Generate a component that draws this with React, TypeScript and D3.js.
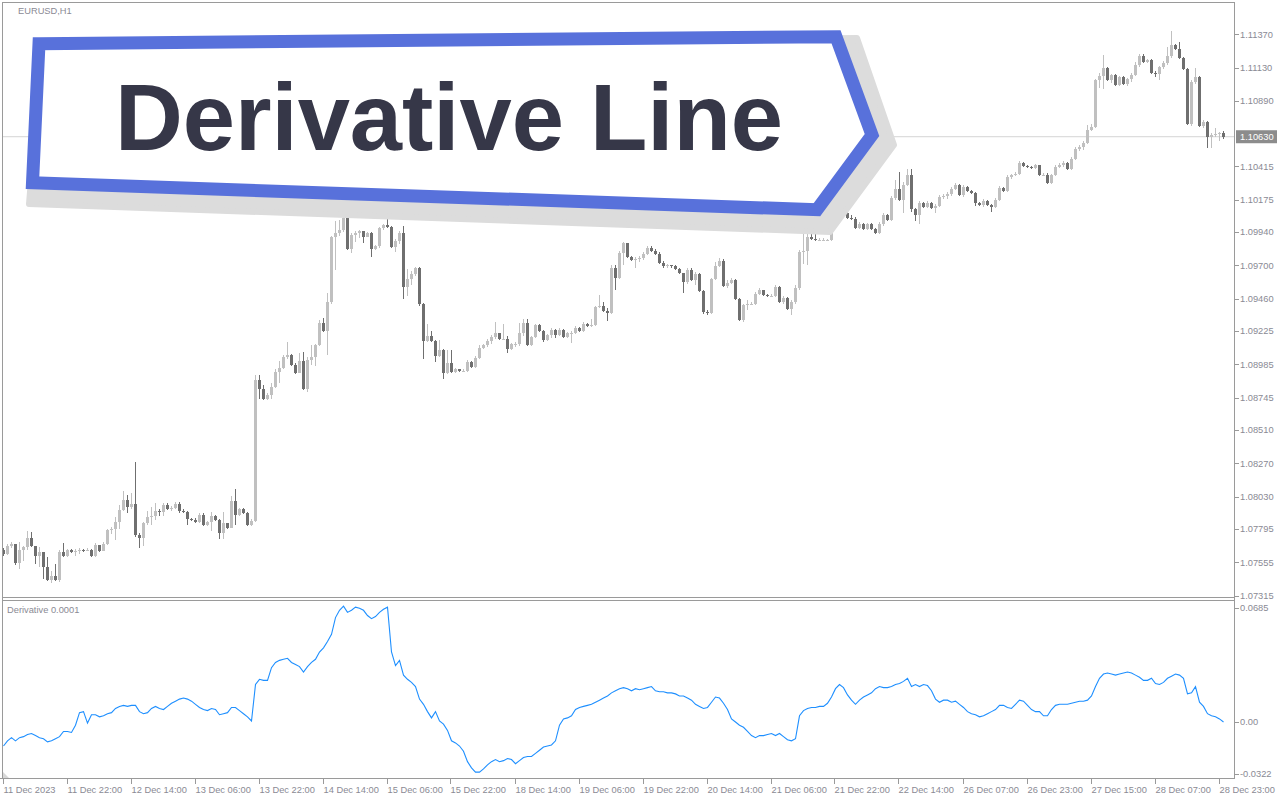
import React from "react";
import * as d3 from "d3";

const OPEN0 = 1.07645;
const closes = [
1.07616,1.07674,1.07688,1.07551,1.07645,1.07667,1.07731,1.07674,1.07602,1.07631,
1.07522,1.07428,1.07457,1.07428,1.07631,1.07602,1.07645,1.07631,1.07638,1.07645,
1.07638,1.07645,1.07602,1.07681,1.07638,1.07688,1.07789,1.07796,1.07848,1.07934,
1.08006,1.07955,1.07977,1.07753,1.07731,1.07840,1.07883,1.07891,1.07927,1.07919,
1.07970,1.07941,1.07948,1.07977,1.07927,1.07919,1.07869,1.07862,1.07848,1.07898,
1.07826,1.07848,1.07891,1.07862,1.07767,1.07840,1.07804,1.07999,1.07898,1.07941,
1.07912,1.07826,1.07855,1.08873,1.08808,1.08736,1.08765,1.08822,1.08931,1.08960,
1.09039,1.09054,1.08981,1.08923,1.09010,1.08808,1.09017,1.09039,1.09126,1.09284,
1.09227,1.09437,1.09905,1.09934,1.09956,1.10043,1.09819,1.09920,1.09934,1.09949,
1.09905,1.09934,1.09819,1.09841,1.09971,1.09993,1.09978,1.09833,1.09877,1.09934,
1.09544,1.09603,1.09639,1.09682,1.09422,1.09155,1.09191,1.09155,1.09047,1.09090,
1.08923,1.08996,1.08931,1.08952,1.08938,1.08938,1.09003,1.08967,1.09032,1.09104,
1.09126,1.09155,1.09184,1.09213,1.09169,1.09169,1.09097,1.09133,1.09133,1.09213,
1.09285,1.09126,1.09184,1.09270,1.09227,1.09162,1.09198,1.09234,1.09198,1.09234,
1.09184,1.09213,1.09213,1.09249,1.09227,1.09278,1.09263,1.09270,1.09400,1.09408,
1.09372,1.09357,1.09682,1.09610,1.09790,1.09862,1.09761,1.09740,1.09747,1.09754,
1.09783,1.09826,1.09805,1.09783,1.09718,1.09697,1.09704,1.09697,1.09675,1.09646,
1.09581,1.09668,1.09595,1.09639,1.09516,1.09365,1.09357,1.09603,1.09697,1.09733,
1.09552,1.09573,1.09595,1.09458,1.09306,1.09415,1.09422,1.09422,1.09494,1.09523,
1.09487,1.09480,1.09480,1.09545,1.09437,1.09465,1.09386,1.09437,1.09537,1.09797,
1.09805,1.09905,1.09891,1.09884,1.09884,1.09884,1.09884,1.09978,1.10029,1.10101,
1.10079,1.10043,1.10036,1.09971,1.10000,1.09963,1.10000,1.09963,1.09934,1.10000,
1.10065,1.10029,1.10188,1.10253,1.10173,1.10282,1.10354,1.10108,1.10065,1.10151,
1.10123,1.10151,1.10115,1.10130,1.10195,1.10202,1.10217,1.10253,1.10282,1.10209,
1.10267,1.10238,1.10224,1.10151,1.10137,1.10166,1.10137,1.10123,1.10173,1.10260,
1.10238,1.10340,1.10354,1.10361,1.10441,1.10419,1.10412,1.10405,1.10426,1.10354,
1.10354,1.10296,1.10354,1.10412,1.10426,1.10441,1.10397,1.10469,1.10542,1.10556,
1.10585,1.10679,1.10701,1.11040,1.11069,1.11127,1.11040,1.11076,1.11004,1.11062,
1.11011,1.11047,1.11076,1.11149,1.11213,1.11170,1.11185,1.11091,1.11083,1.11134,
1.11163,1.11213,1.11293,1.11264,1.11199,1.11120,1.10722,1.11025,1.11062,1.10708,
1.10737,1.10628,1.10643,1.10650,1.10657,1.10630
];
const highs = [
1.07659,1.07688,1.07703,1.07688,1.07703,1.07674,1.07782,1.07775,1.07674,1.07667,
1.07631,1.07595,1.07493,1.07544,1.07645,1.07696,1.07652,1.07652,1.07652,1.07659,
1.07652,1.07659,1.07652,1.07696,1.07681,1.07703,1.07796,1.07811,1.07883,1.07970,
1.08071,1.08042,1.08057,1.08281,1.07767,1.07848,1.07927,1.07955,1.07984,1.07941,
1.07984,1.07984,1.07963,1.07991,1.07991,1.07941,1.07927,1.07876,1.07876,1.07912,
1.07912,1.07855,1.07919,1.07898,1.07869,1.07919,1.07840,1.08035,1.08085,1.07948,
1.07948,1.07919,1.07869,1.08909,1.08909,1.08837,1.08779,1.08851,1.08952,1.09010,
1.09054,1.09148,1.09061,1.08996,1.09068,1.09075,1.09039,1.09126,1.09133,1.09306,
1.09320,1.09501,1.09913,1.10022,1.10029,1.10087,1.10058,1.09934,1.09949,1.09956,
1.09949,1.09942,1.09942,1.09848,1.09978,1.10000,1.10036,1.09985,1.09891,1.09949,
1.09985,1.09675,1.09660,1.09689,1.09689,1.09429,1.09278,1.09227,1.09162,1.09162,
1.09097,1.09090,1.09090,1.08960,1.08952,1.08952,1.09017,1.09010,1.09047,1.09126,
1.09133,1.09169,1.09198,1.09292,1.09213,1.09278,1.09191,1.09140,1.09148,1.09285,
1.09314,1.09314,1.09191,1.09278,1.09278,1.09234,1.09205,1.09249,1.09242,1.09249,
1.09242,1.09220,1.09227,1.09263,1.09256,1.09292,1.09285,1.09314,1.09408,1.09487,
1.09437,1.09393,1.09704,1.09704,1.09805,1.09870,1.09862,1.09769,1.09761,1.09769,
1.09797,1.09841,1.09841,1.09819,1.09797,1.09733,1.09711,1.09704,1.09704,1.09682,
1.09646,1.09682,1.09682,1.09653,1.09646,1.09523,1.09379,1.09610,1.09725,1.09754,
1.09747,1.09595,1.09610,1.09603,1.09465,1.09422,1.09451,1.09437,1.09509,1.09537,
1.09523,1.09494,1.09494,1.09559,1.09552,1.09480,1.09473,1.09451,1.09559,1.09812,
1.09934,1.10022,1.09927,1.09927,1.09898,1.09898,1.09891,1.09985,1.10043,1.10137,
1.10115,1.10087,1.10065,1.10050,1.10014,1.10007,1.10007,1.10007,1.09971,1.10014,
1.10079,1.10072,1.10202,1.10318,1.10376,1.10303,1.10397,1.10397,1.10115,1.10166,
1.10159,1.10166,1.10159,1.10144,1.10209,1.10217,1.10231,1.10267,1.10296,1.10289,
1.10282,1.10274,1.10245,1.10231,1.10159,1.10180,1.10173,1.10144,1.10188,1.10274,
1.10267,1.10354,1.10361,1.10376,1.10455,1.10448,1.10426,1.10419,1.10433,1.10426,
1.10368,1.10368,1.10361,1.10426,1.10441,1.10455,1.10448,1.10484,1.10556,1.10571,
1.10600,1.10715,1.10722,1.11047,1.11091,1.11221,1.11134,1.11083,1.11083,1.11069,
1.11069,1.11054,1.11091,1.11170,1.11228,1.11228,1.11192,1.11192,1.11105,1.11141,
1.11177,1.11278,1.11394,1.11300,1.11315,1.11206,1.11127,1.11040,1.11127,1.11069,
1.10751,1.10744,1.10657,1.10693,1.10665,1.10672
];
const lows = [
1.07602,1.07609,1.07659,1.07537,1.07508,1.07566,1.07645,1.07667,1.07544,1.07522,
1.07435,1.07421,1.07406,1.07421,1.07414,1.07594,1.07594,1.07623,1.07602,1.07616,
1.07631,1.07638,1.07594,1.07594,1.07631,1.07638,1.07681,1.07761,1.07717,1.07796,
1.07927,1.07912,1.07941,1.07738,1.07659,1.07674,1.07826,1.07826,1.07862,1.07891,
1.07891,1.07934,1.07927,1.07941,1.07912,1.07912,1.07826,1.07855,1.07840,1.07840,
1.07819,1.07819,1.07782,1.07855,1.07724,1.07724,1.07796,1.07804,1.07826,1.07891,
1.07905,1.07819,1.07819,1.07848,1.08736,1.08728,1.08728,1.08736,1.08815,1.08851,
1.08952,1.09025,1.08974,1.08916,1.08931,1.08801,1.08786,1.08981,1.08974,1.09119,
1.09220,1.09054,1.09422,1.09668,1.09913,1.09942,1.09812,1.09790,1.09870,1.09898,
1.09862,1.09905,1.09761,1.09812,1.09826,1.09956,1.09971,1.09826,1.09797,1.09855,
1.09458,1.09480,1.09559,1.09624,1.09408,1.09025,1.09148,1.09148,1.09003,1.09039,
1.08880,1.08916,1.08923,1.08923,1.08931,1.08931,1.08931,1.08960,1.08960,1.09025,
1.09097,1.09111,1.09133,1.09169,1.09162,1.09162,1.09068,1.09090,1.09111,1.09119,
1.09191,1.09119,1.09119,1.09176,1.09220,1.09148,1.09155,1.09176,1.09176,1.09191,
1.09176,1.09176,1.09140,1.09205,1.09220,1.09220,1.09256,1.09256,1.09263,1.09393,
1.09365,1.09299,1.09350,1.09523,1.09603,1.09704,1.09754,1.09733,1.09682,1.09725,
1.09740,1.09776,1.09797,1.09776,1.09711,1.09682,1.09682,1.09682,1.09668,1.09639,
1.09501,1.09566,1.09588,1.09559,1.09509,1.09350,1.09343,1.09350,1.09595,1.09689,
1.09545,1.09537,1.09566,1.09451,1.09299,1.09292,1.09379,1.09415,1.09415,1.09487,
1.09480,1.09473,1.09473,1.09473,1.09429,1.09422,1.09379,1.09343,1.09422,1.09523,
1.09711,1.09704,1.09884,1.09877,1.09877,1.09877,1.09877,1.09877,1.09971,1.10014,
1.10065,1.10036,1.10029,1.09963,1.09963,1.09956,1.09956,1.09956,1.09927,1.09927,
1.09985,1.10022,1.10022,1.10173,1.10166,1.10079,1.10274,1.10087,1.10022,1.10000,
1.10115,1.10115,1.10108,1.10079,1.10123,1.10180,1.10180,1.10202,1.10245,1.10202,
1.10195,1.10231,1.10217,1.10130,1.10130,1.10123,1.10130,1.10087,1.10115,1.10166,
1.10231,1.10231,1.10325,1.10347,1.10354,1.10412,1.10405,1.10397,1.10397,1.10347,
1.10347,1.10289,1.10289,1.10347,1.10405,1.10412,1.10390,1.10390,1.10462,1.10527,
1.10534,1.10578,1.10672,1.10693,1.10982,1.10975,1.11033,1.11018,1.10997,1.10997,
1.11004,1.10997,1.11025,1.11069,1.11134,1.11163,1.11163,1.11083,1.11062,1.11040,
1.11120,1.11149,1.11199,1.11257,1.11192,1.11112,1.10715,1.10708,1.11011,1.10701,
1.10693,1.10549,1.10549,1.10628,1.10600,1.10614
];
const derivative = [
-0.0138,-0.0108,-0.0090,-0.0108,-0.0090,-0.0084,-0.0072,-0.0066,-0.0078,-0.0090,
-0.0096,-0.0114,-0.0108,-0.0096,-0.0084,-0.0054,-0.0054,-0.0060,-0.0018,0.0054,
0.0060,-0.0006,0.0042,0.0042,0.0030,0.0036,0.0048,0.0054,0.0078,0.0090,
0.0096,0.0090,0.0096,0.0096,0.0060,0.0048,0.0054,0.0078,0.0090,0.0078,
0.0072,0.0090,0.0108,0.0120,0.0132,0.0138,0.0132,0.0120,0.0102,0.0084,
0.0072,0.0066,0.0078,0.0072,0.0042,0.0048,0.0054,0.0084,0.0084,0.0066,
0.0048,0.0030,0.0006,0.0216,0.0246,0.0240,0.0240,0.0313,0.0343,0.0355,
0.0361,0.0367,0.0343,0.0331,0.0319,0.0288,0.0319,0.0343,0.0361,0.0403,
0.0427,0.0463,0.0505,0.0601,0.0643,0.0667,0.0631,0.0643,0.0661,0.0655,
0.0643,0.0613,0.0595,0.0607,0.0631,0.0649,0.0661,0.0403,0.0325,0.0355,
0.0270,0.0246,0.0228,0.0204,0.0132,0.0102,0.0060,0.0024,0.0060,0.0006,
-0.0012,-0.0048,-0.0108,-0.0120,-0.0138,-0.0168,-0.0228,-0.0264,-0.0288,-0.0288,
-0.0270,-0.0246,-0.0228,-0.0216,-0.0228,-0.0222,-0.0210,-0.0216,-0.0240,-0.0222,
-0.0204,-0.0198,-0.0198,-0.0180,-0.0162,-0.0144,-0.0138,-0.0132,-0.0108,-0.0018,
0.0018,0.0024,0.0036,0.0072,0.0084,0.0090,0.0096,0.0102,0.0114,0.0126,
0.0138,0.0150,0.0168,0.0180,0.0192,0.0198,0.0192,0.0180,0.0192,0.0186,
0.0192,0.0198,0.0204,0.0180,0.0174,0.0174,0.0168,0.0168,0.0162,0.0150,
0.0150,0.0138,0.0126,0.0102,0.0090,0.0078,0.0084,0.0114,0.0144,0.0138,
0.0108,0.0072,0.0018,0.0000,-0.0018,-0.0030,-0.0054,-0.0078,-0.0090,-0.0078,
-0.0078,-0.0072,-0.0066,-0.0078,-0.0066,-0.0084,-0.0102,-0.0108,-0.0096,0.0036,
0.0066,0.0078,0.0084,0.0084,0.0090,0.0090,0.0108,0.0144,0.0192,0.0216,
0.0198,0.0156,0.0126,0.0102,0.0126,0.0144,0.0156,0.0168,0.0192,0.0204,
0.0198,0.0198,0.0204,0.0216,0.0222,0.0234,0.0252,0.0204,0.0216,0.0204,
0.0216,0.0210,0.0180,0.0132,0.0114,0.0126,0.0126,0.0114,0.0120,0.0102,
0.0084,0.0060,0.0048,0.0042,0.0030,0.0036,0.0048,0.0060,0.0072,0.0096,
0.0096,0.0084,0.0078,0.0102,0.0126,0.0120,0.0096,0.0072,0.0060,0.0060,
0.0036,0.0036,0.0072,0.0096,0.0102,0.0102,0.0102,0.0108,0.0114,0.0120,
0.0120,0.0126,0.0150,0.0204,0.0252,0.0276,0.0282,0.0276,0.0270,0.0276,
0.0282,0.0288,0.0282,0.0270,0.0258,0.0240,0.0240,0.0252,0.0222,0.0216,
0.0228,0.0252,0.0264,0.0276,0.0270,0.0252,0.0162,0.0168,0.0204,0.0114,
0.0090,0.0048,0.0036,0.0030,0.0018,0.0000
];
const timeLabels = [
"11 Dec 2023","11 Dec 22:00","12 Dec 14:00","13 Dec 06:00","13 Dec 22:00",
"14 Dec 14:00","15 Dec 06:00","15 Dec 22:00","18 Dec 14:00","19 Dec 06:00",
"19 Dec 22:00","20 Dec 14:00","21 Dec 06:00","21 Dec 22:00","22 Dec 14:00",
"26 Dec 07:00","26 Dec 23:00","27 Dec 15:00","28 Dec 07:00","28 Dec 23:00"
];
const timeLabelStep = 16;
const priceTicks = [
1.11370,1.11130,1.10890,1.10415,1.10175,1.09940,1.09700,1.09460,
1.09225,1.08985,1.08745,1.08510,1.08270,1.08030,1.07795,1.07555,1.07315
];
const lastPrice = 1.1063;
const derivTicks = [0.0685, 0, -0.0322];
const symbolLabel = "EURUSD,H1";
const indicatorLabel = "Derivative 0.0001";
const bannerTitle = "Derivative Line";

const FONT = "Tahoma, 'Liberation Sans', Arial, sans-serif";
const AX = "#8a8a94";
const FRAME = "#9a9a9a";
const BULL = "#c0c0c0";
const BEAR = "#6f6f6f";

export default function App() {
  const n = closes.length;
  const x = d3.scaleLinear().domain([0, n - 1]).range([3.5, 3.5 + 4 * (n - 1)]);
  const y = d3.scaleLinear().domain([1.07315, 1.1137]).range([595.6, 34.3]);
  const yd = d3.scaleLinear().domain([-0.0322, 0.0685]).range([778, 603]);
  const line = d3.line<number>().x((_, i) => x(i)).y((d) => yd(d));
  const axisX = 1234.5;

  const candles = closes.map((c, i) => {
    const o = i === 0 ? OPEN0 : closes[i - 1];
    const bull = c >= o;
    const col = bull ? BULL : BEAR;
    const top = y(Math.max(o, c));
    const bot = y(Math.min(o, c));
    const hi = y(Math.max(highs[i], o, c));
    const lo = y(Math.min(lows[i], o, c));
    const cx = x(i);
    return (
      <g key={i}>
        <line x1={cx} x2={cx} y1={hi} y2={lo} stroke={col} strokeWidth={1} />
        <rect x={cx - 1.5} y={Math.round(top)} width={3} height={Math.max(1, Math.round(bot) - Math.round(top))} fill={col} />
      </g>
    );
  });

  const fmtD = (v: number) => (v === 0 ? "0.00" : v.toFixed(4));

  return (
    <svg width={1280} height={800} style={{ position: "absolute", left: 0, top: 0, background: "#fff" }} fontFamily={FONT}>
      <rect x={0} y={0} width={1280} height={800} fill="#fff" />
      <line x1={3} x2={axisX} y1={y(lastPrice)} y2={y(lastPrice)} stroke="#d4d4d4" strokeWidth={1} />
      <g shapeRendering="crispEdges">{candles}</g>

      <path d={line(derivative) || ""} fill="none" stroke="#1e8fff" strokeWidth={1.1} />

      <g shapeRendering="crispEdges" stroke={FRAME} strokeWidth={1} fill="none">
        <line x1={2.5} x2={2.5} y1={2} y2={779} />
        <line x1={2} x2={axisX} y1={2.5} y2={2.5} />
        <line x1={2} x2={axisX} y1={597.5} y2={597.5} />
        <line x1={2} x2={axisX} y1={600.5} y2={600.5} />
        <line x1={0} x2={axisX} y1={778.5} y2={778.5} />
        <line x1={axisX} x2={axisX} y1={2} y2={779} />
      </g>
      <path d="M3,772 L3,778 L9,778 Z" fill="#d8d8d8" />

      {priceTicks.map((p) => (
        <g key={p}>
          <line x1={axisX} x2={axisX + 4} y1={Math.round(y(p)) + 0.5} y2={Math.round(y(p)) + 0.5} stroke={FRAME} shapeRendering="crispEdges" />
          <text x={1240} y={y(p)} dy="0.35em" fontSize={9.3} fill={AX}>{p.toFixed(5)}</text>
        </g>
      ))}
      <rect x={1236} y={y(lastPrice) - 6.5} width={41} height={13} fill="#8c8c8c" />
      <text x={1240} y={y(lastPrice)} dy="0.35em" fontSize={9.3} fill="#fff">{lastPrice.toFixed(5)}</text>

      {derivTicks.map((v) => {
        const ty = v === derivTicks[0] ? yd(v) + 5 : v === derivTicks[2] ? yd(v) - 4 : yd(v);
        return (
          <g key={v}>
            <line x1={axisX} x2={axisX + 4} y1={Math.round(ty) + 0.5} y2={Math.round(ty) + 0.5} stroke={FRAME} shapeRendering="crispEdges" />
            <text x={1240} y={ty} dy="0.35em" fontSize={9.3} fill={AX}>{fmtD(v)}</text>
          </g>
        );
      })}

      {timeLabels.map((t, j) => {
        const tx = Math.round(x(j * timeLabelStep)) - 0.5;
        return (
          <g key={t}>
            <line x1={tx} x2={tx} y1={779} y2={784} stroke={FRAME} shapeRendering="crispEdges" />
            <text x={tx} y={793} fontSize={9.3} fill={AX}>{t}</text>
          </g>
        );
      })}

      <text x={18} y={10.5} dy="0.35em" fontSize={9.3} fill={AX}>{symbolLabel}</text>
      <text x={7} y={609.5} dy="0.35em" fontSize={9.3} fill={AX}>{indicatorLabel}</text>

      <path d="M42,46 L857,38 L894,145 L830,232 L29,204 Z" fill="#dcdcdc" stroke="#dcdcdc" strokeWidth={6} strokeLinejoin="round" />
      <path d="M39,43.7 L836,36.7 L872,135 L817,209.7 L32.5,182.8 Z" fill="#fff" stroke="#5871db" strokeWidth={13} strokeLinejoin="miter" />
      <text x={115} y={150} fontSize={94} fontWeight="bold" fill="#363748" fontFamily="'Liberation Sans', Arial, sans-serif" textLength={668} lengthAdjust="spacingAndGlyphs">{bannerTitle}</text>
    </svg>
  );
}
